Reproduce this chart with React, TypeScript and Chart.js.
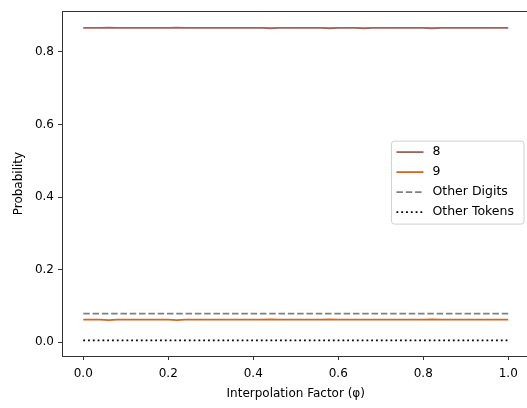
import React, { useEffect, useRef } from "react";
import { Chart, registerables } from "chart.js";

Chart.register(...registerables);

const phi = [
  0.0, 0.02, 0.04, 0.06, 0.08, 0.1, 0.12, 0.14, 0.16, 0.18,
  0.2, 0.22, 0.24, 0.26, 0.28, 0.3, 0.32, 0.34, 0.36, 0.38,
  0.4, 0.42, 0.44, 0.46, 0.48, 0.5, 0.52, 0.54, 0.56, 0.58,
  0.6, 0.62, 0.64, 0.66, 0.68, 0.7, 0.72, 0.74, 0.76, 0.78,
  0.8, 0.82, 0.84, 0.86, 0.88, 0.9, 0.92, 0.94, 0.96, 0.98, 1.0,
];

const prob8 = [
  0.866, 0.866, 0.866, 0.867, 0.866, 0.866, 0.866, 0.866, 0.866, 0.866,
  0.866, 0.867, 0.866, 0.866, 0.866, 0.866, 0.866, 0.866, 0.866, 0.866,
  0.866, 0.866, 0.865, 0.866, 0.866, 0.866, 0.866, 0.866, 0.866, 0.865,
  0.866, 0.866, 0.866, 0.865, 0.866, 0.866, 0.866, 0.866, 0.866, 0.866,
  0.866, 0.865, 0.866, 0.866, 0.866, 0.866, 0.866, 0.866, 0.866, 0.866, 0.866,
];

const prob9 = [
  0.062, 0.062, 0.062, 0.061, 0.062, 0.062, 0.062, 0.062, 0.062, 0.062,
  0.062, 0.061, 0.062, 0.062, 0.062, 0.062, 0.062, 0.062, 0.062, 0.062,
  0.062, 0.062, 0.063, 0.062, 0.062, 0.062, 0.062, 0.062, 0.062, 0.063,
  0.062, 0.062, 0.062, 0.062, 0.062, 0.062, 0.062, 0.062, 0.062, 0.062,
  0.062, 0.063, 0.062, 0.062, 0.062, 0.062, 0.062, 0.062, 0.062, 0.062, 0.062,
];

const otherDigits = [
  0.079, 0.079, 0.079, 0.079, 0.079, 0.079, 0.079, 0.079, 0.079, 0.079,
  0.079, 0.079, 0.079, 0.079, 0.079, 0.079, 0.079, 0.079, 0.079, 0.079,
  0.079, 0.079, 0.079, 0.079, 0.079, 0.079, 0.079, 0.079, 0.079, 0.079,
  0.079, 0.079, 0.079, 0.079, 0.079, 0.079, 0.079, 0.079, 0.079, 0.079,
  0.079, 0.079, 0.079, 0.079, 0.079, 0.079, 0.079, 0.079, 0.079, 0.079, 0.079,
];

const otherTokens = [
  0.005, 0.005, 0.005, 0.005, 0.005, 0.005, 0.005, 0.005, 0.005, 0.005,
  0.005, 0.005, 0.005, 0.005, 0.005, 0.005, 0.005, 0.005, 0.005, 0.005,
  0.005, 0.005, 0.005, 0.005, 0.005, 0.005, 0.005, 0.005, 0.005, 0.005,
  0.005, 0.005, 0.005, 0.005, 0.005, 0.005, 0.005, 0.005, 0.005, 0.005,
  0.005, 0.005, 0.005, 0.005, 0.005, 0.005, 0.005, 0.005, 0.005, 0.005, 0.005,
];

const seriesLabels = ["8", "9", "Other Digits", "Other Tokens"];
const xTicks = [0.0, 0.2, 0.4, 0.6, 0.8, 1.0];
const yTicks = [0.0, 0.2, 0.4, 0.6, 0.8];

const FONT = "'DejaVu Sans', sans-serif";

const framePlugin = {
  id: "frame",
  afterDraw(chart: any) {
    const { ctx, chartArea } = chart;
    ctx.save();
    ctx.strokeStyle = "#333";
    ctx.lineWidth = 1;
    ctx.strokeRect(
      Math.round(chartArea.left) + 0.5,
      Math.round(chartArea.top) + 0.5,
      Math.round(chartArea.right - chartArea.left),
      Math.round(chartArea.bottom - chartArea.top)
    );
    ctx.restore();
  },
};

const legendPlugin = {
  id: "mplLegend",
  afterDraw(chart: any) {
    const { ctx, chartArea } = chart;
    const ds = chart.data.datasets;
    ctx.save();
    ctx.font = `12.5px ${FONT}`;
    let maxW = 0;
    ds.forEach((d: any) => {
      maxW = Math.max(maxW, ctx.measureText(d.label).width);
    });
    const rowH = 20;
    const handleLen = 27;
    const padX = 5;
    const gap = 9;
    const boxW = padX + handleLen + gap + maxW + 10;
    const boxH = ds.length * rowH + 3;
    const right = chartArea.right - 5.5;
    const left = right - boxW;
    const top = (chartArea.top + chartArea.bottom) / 2 - boxH / 2 - 1;
    const r = 3;
    ctx.beginPath();
    ctx.moveTo(left + r, top);
    ctx.lineTo(left + boxW - r, top);
    ctx.quadraticCurveTo(left + boxW, top, left + boxW, top + r);
    ctx.lineTo(left + boxW, top + boxH - r);
    ctx.quadraticCurveTo(left + boxW, top + boxH, left + boxW - r, top + boxH);
    ctx.lineTo(left + r, top + boxH);
    ctx.quadraticCurveTo(left, top + boxH, left, top + boxH - r);
    ctx.lineTo(left, top + r);
    ctx.quadraticCurveTo(left, top, left + r, top);
    ctx.closePath();
    ctx.fillStyle = "rgba(255,255,255,0.8)";
    ctx.fill();
    ctx.strokeStyle = "#d0d0d0";
    ctx.lineWidth = 1;
    ctx.stroke();
    ds.forEach((d: any, i: number) => {
      const cy = top + 11 + i * rowH;
      ctx.beginPath();
      ctx.setLineDash(d.borderDash || []);
      ctx.strokeStyle = d.borderColor;
      ctx.lineWidth = d.borderWidth;
      ctx.moveTo(left + padX, cy);
      ctx.lineTo(left + padX + handleLen, cy);
      ctx.stroke();
      ctx.setLineDash([]);
      ctx.fillStyle = "#000";
      ctx.textBaseline = "middle";
      ctx.textAlign = "left";
      ctx.fillText(d.label, left + padX + handleLen + gap, cy);
    });
    ctx.restore();
  },
};

function toPoints(ys: number[]) {
  return phi.map((x, i) => ({ x, y: ys[i] }));
}

export default function App() {
  const ref = useRef<HTMLCanvasElement | null>(null);
  useEffect(() => {
    document.body.style.margin = "0";
    const canvas = ref.current!;
    const chart = new Chart(canvas, {
      type: "line",
      data: {
        datasets: [
          {
            label: seriesLabels[0],
            data: toPoints(prob8),
            borderColor: "#a0625a",
            borderWidth: 1.8,
            pointRadius: 0,
            tension: 0,
          },
          {
            label: seriesLabels[1],
            data: toPoints(prob9),
            borderColor: "#d2691e",
            borderWidth: 1.8,
            pointRadius: 0,
            tension: 0,
          },
          {
            label: seriesLabels[2],
            data: toPoints(otherDigits),
            borderColor: "#808080",
            borderWidth: 1.8,
            borderDash: [6.5, 2.8],
            pointRadius: 0,
            tension: 0,
          },
          {
            label: seriesLabels[3],
            data: toPoints(otherTokens),
            borderColor: "#000000",
            borderWidth: 1.8,
            borderDash: [1.8, 3],
            pointRadius: 0,
            tension: 0,
          },
        ],
      },
      options: {
        animation: false,
        responsive: false,
        maintainAspectRatio: false,
        layout: { padding: { left: 0, top: 7, right: 2.5, bottom: 0 } },
        plugins: {
          legend: { display: false },
          tooltip: { enabled: false },
        },
        scales: {
          x: {
            type: "linear",
            min: -0.05,
            max: 1.05,
            afterFit(axis: any) {
              axis.height = 52;
            },
            afterBuildTicks(axis: any) {
              axis.ticks = xTicks.map((v) => ({ value: v }));
            },
            grid: {
              display: true,
              drawOnChartArea: false,
              drawTicks: true,
              tickLength: 4,
              color: "#333",
            },
            border: { display: true, color: "#333", width: 1 },
            ticks: {
              padding: 7,
              color: "#000",
              font: { family: FONT, size: 12 },
              callback: (v: any) => Number(v).toFixed(1),
              maxRotation: 0,
            },
            title: {
              display: true,
              text: "Interpolation Factor (\u03c6)",
              color: "#000",
              font: { family: FONT, size: 12 },
              padding: { top: 0, bottom: 7 },
            },
          },
          y: {
            type: "linear",
            min: -0.038,
            max: 0.912,
            afterFit(axis: any) {
              axis.width = 62;
            },
            afterBuildTicks(axis: any) {
              axis.ticks = yTicks.map((v) => ({ value: v }));
            },
            grid: {
              display: true,
              drawOnChartArea: false,
              drawTicks: true,
              tickLength: 4,
              color: "#333",
            },
            border: { display: true, color: "#333", width: 1 },
            ticks: {
              padding: 4,
              color: "#000",
              font: { family: FONT, size: 12 },
              callback: (v: any) => Number(v).toFixed(1),
            },
            title: {
              display: true,
              text: "Probability",
              color: "#000",
              font: { family: FONT, size: 12 },
              padding: { top: 12, bottom: 0 },
            },
          },
        },
      },
      plugins: [framePlugin, legendPlugin],
    });
    return () => chart.destroy();
  }, []);
  return (
    <div style={{ width: 527, height: 408, overflow: "hidden", position: "relative" }}>
      <canvas ref={ref} width={532} height={408} style={{ width: 532, height: 408, display: "block" }} />
    </div>
  );
}
